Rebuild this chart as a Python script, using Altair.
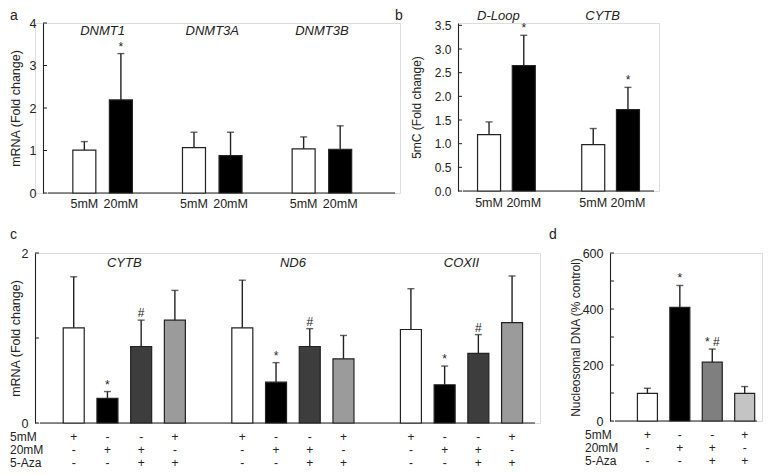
import altair as alt
import pandas as pd

FONT = "Liberation Sans"
INK = "#222222"

# ---------------- data ----------------
# panel a
a_genes = ["DNMT1", "DNMT3A", "DNMT3B"]
a_conds = ["5mM", "20mM"]
a_mean = [1.01, 2.19, 1.07, 0.88, 1.04, 1.03]
a_err = [0.20, 1.09, 0.36, 0.55, 0.28, 0.55]
a_sig = ["", "*", "", "", "", ""]
a_fill = ["#ffffff", "#000000"]
a_yticks = [0, 1, 2, 3, 4]

# panel b
b_regions = ["D-Loop", "CYTB"]
b_conds = ["5mM", "20mM"]
b_mean = [1.19, 2.65, 0.98, 1.72]
b_err = [0.27, 0.64, 0.34, 0.47]
b_sig = ["", "*", "", "*"]
b_fill = ["#ffffff", "#000000"]
b_yticks = [0.0, 0.5, 1.0, 1.5, 2.0, 2.5, 3.0, 3.5]

# panel c
c_genes = ["CYTB", "ND6", "COXII"]
c_mean = [1.12, 0.29, 0.90, 1.21, 1.12, 0.48, 0.90, 0.755, 1.10, 0.45, 0.82, 1.18]
c_err = [0.60, 0.08, 0.31, 0.35, 0.56, 0.23, 0.21, 0.275, 0.48, 0.22, 0.22, 0.55]
c_sig = ["", "*", "#", "", "", "*", "#", "", "", "*", "#", ""]
c_fill = ["#ffffff", "#000000", "#3d3d3d", "#9b9b9b"]
c_yticks = [0, 1, 2]

# panel d
d_mean = [99, 406, 210, 99]
d_err = [18, 78, 47, 24]
d_sig = ["", "*", "* #", ""]
d_fill = ["#ffffff", "#000000", "#7f7f7f", "#c4c4c4"]
d_ylabels = [0, 200, 400, 600]
d_yticks = [0, 100, 200, 300, 400, 500, 600]

# treatment table (c, d)
treat_rows = ["5mM", "20mM", "5-Aza"]
treat_signs = [["+", "-", "-", "+"], ["-", "+", "+", "-"], ["-", "-", "+", "+"]]


def make_panel(bars, W, H, xdom, x_start, ydom, axis_vals, tick_vals, yfmt, ytitle,
               title_x, title_fs, label_fs, bar_w, y_off=0):
    sx = alt.Scale(domain=xdom, nice=False, zero=False)
    sy = alt.Scale(domain=ydom, nice=False, zero=True)
    xax = alt.Axis(title=None, labels=False, ticks=False, grid=False, domain=False,
                   minExtent=0)
    yax = alt.Axis(values=axis_vals, format=yfmt, title=ytitle, ticks=False,
                   tickSize=0, labelPadding=7, grid=False, domainColor=INK,
                   domainWidth=1.1, labelFontSize=label_fs, labelColor=INK,
                   offset=-y_off, minExtent=0,
                   titleFontSize=title_fs, titleFontWeight="normal",
                   titleColor=INK, titleX=title_x, titleY=H / 2,
                   titleAngle=270, titleAlign="center", titleBaseline="middle")

    def X(f):
        return alt.X(f"{f}:Q", scale=sx, axis=xax)

    def Y(f):
        return alt.Y(f"{f}:Q", scale=sy, axis=yax)

    base = alt.Chart(bars).transform_calculate(top="datum.mean + datum.err")
    frame = pd.DataFrame({"x0": [x_start], "x1": [xdom[1]], "y0": [0]})
    layers = [
        alt.Chart(frame).mark_rule(color=INK, strokeWidth=1.2).encode(
            x=X("x0"), x2="x1:Q", y=Y("y0")),
        base.mark_bar(size=bar_w, stroke=INK, strokeWidth=1.2).encode(
            x=X("pos"), y=Y("mean"), fill=alt.Fill("fill:N", scale=None)),
        base.mark_rule(color=INK, strokeWidth=1.4).encode(
            x=X("pos"), y=Y("mean"), y2="top:Q"),
        base.mark_tick(orient="horizontal", size=7, thickness=1.4, color=INK).encode(
            x=X("pos"), y=Y("top")),
        base.mark_text(fontSize=12, dy=-3, baseline="alphabetic", color=INK).encode(
            x=X("pos"), y=Y("top"), text="sig:N"),
        alt.Chart(pd.DataFrame({"v": tick_vals})).mark_rule(color=INK, strokeWidth=1).encode(
            y=Y("v"), x=alt.value(y_off), x2=alt.value(y_off + 4)),
    ]
    return layers, X, Y


def letter(t, lx, ly):
    return alt.Chart(pd.DataFrame({"t": [t]})).mark_text(
        align="left", baseline="top", fontSize=14, color=INK).encode(
        x=alt.value(lx), y=alt.value(ly), text="t:N")


# ---------------- panel a ----------------
rows = []
for g, gene in enumerate(a_genes):
    for j, cond in enumerate(a_conds):
        k = g * 2 + j
        rows.append({"pos": g * 3 + j + 1, "cond": cond, "mean": a_mean[k],
                     "err": a_err[k], "sig": a_sig[k], "fill": a_fill[j]})
a_df = pd.DataFrame(rows)
a_gdf = pd.DataFrame({"center": [g * 3 + 1.5 for g in range(len(a_genes))], "gene": a_genes})
A_OFF = 8
WA, HA = 357 + A_OFF, 170
la, XA, YA = make_panel(a_df, WA, HA, [-A_OFF / 37.5, 9.5], 0, [0, 4], a_yticks, a_yticks, "d",
                        "mRNA (Fold change)", -28, 12.5, 12.5, 23, y_off=A_OFF)
la += [
    alt.Chart(a_df).mark_text(baseline="middle", fontSize=12.5, color=INK).encode(
        x=XA("pos"), y=alt.value(HA + 11), text="cond:N"),
    alt.Chart(a_gdf).mark_text(baseline="middle", fontSize=13, fontStyle="italic", color=INK).encode(
        x=XA("center"), y=alt.value(8), text="gene:N"),
    letter("a", -25, -14),
]
A = alt.layer(*la).properties(width=WA, height=HA)

# ---------------- panel b ----------------
rows = []
for g, reg in enumerate(b_regions):
    for j, cond in enumerate(b_conds):
        k = g * 2 + j
        rows.append({"pos": g * 3 + j + 1, "cond": cond, "mean": b_mean[k],
                     "err": b_err[k], "sig": b_sig[k], "fill": b_fill[j]})
b_df = pd.DataFrame(rows)
b_gdf = pd.DataFrame({"center": [g * 3 + 1.5 for g in range(len(b_regions))], "gene": b_regions})
WB, HB = 201, 168
lb, XB, YB = make_panel(b_df, WB, HB, [0.25, 5.75], 0.25, [0, 3.55], b_yticks, b_yticks, ".1f",
                        "5mC (Fold change)", -42, 12, 12, 23)
lb += [
    alt.Chart(b_df).mark_text(baseline="middle", fontSize=12.5, color=INK).encode(
        x=XB("pos"), y=alt.value(HB + 11.5), text="cond:N"),
    alt.Chart(b_gdf).mark_text(baseline="middle", fontSize=13, fontStyle="italic", color=INK, dx=-8).encode(
        x=XB("center"), y=alt.value(-7), text="gene:N"),
    letter("b", -63, -14),
]
B = alt.layer(*lb).properties(width=WB, height=HB)


def treat_layers(X, H, n_groups, step):
    out = []
    for r, name in enumerate(treat_rows):
        yy = H + 14 + 13 * r
        sdf = pd.DataFrame([{"pos": g * step + j + 1, "s": treat_signs[r][j]}
                            for g in range(n_groups) for j in range(4)])
        out.append(alt.Chart(sdf).mark_text(baseline="middle", fontSize=12, color=INK).encode(
            x=X("pos"), y=alt.value(yy), text="s:N"))
        out.append(alt.Chart(pd.DataFrame({"t": [name]})).mark_text(
            align="left", baseline="middle", fontSize=12, color=INK).encode(
            x=alt.value(-25), y=alt.value(yy), text="t:N"))
    return out


# ---------------- panel c ----------------
rows = []
for g, gene in enumerate(c_genes):
    for j in range(4):
        k = g * 4 + j
        rows.append({"pos": g * 5 + j + 1, "mean": c_mean[k], "err": c_err[k],
                     "sig": c_sig[k], "fill": c_fill[j]})
c_df = pd.DataFrame(rows)
c_gdf = pd.DataFrame({"center": [g * 5 + 2.5 for g in range(len(c_genes))], "gene": c_genes})
WC, HC = 505, 170
lc, XC, YC = make_panel(c_df, WC, HC, [0, 14.68], 0, [0, 2], c_yticks, c_yticks, "d",
                        "mRNA (Fold change)", -19.5, 12.5, 12.5, 21)
lc += [
    alt.Chart(c_gdf).mark_text(baseline="middle", fontSize=13, fontStyle="italic", color=INK).encode(
        x=XC("center"), y=alt.value(10), text="gene:N"),
    letter("c", -25, -25),
]
lc += treat_layers(XC, HC, 3, 5)
C = alt.layer(*lc).properties(width=WC, height=HC)

# ---------------- panel d ----------------
d_df = pd.DataFrame({"pos": [j + 1 for j in range(4)], "mean": d_mean, "err": d_err,
                     "sig": d_sig, "fill": d_fill})
WD, HD = 152, 168
ld, XD, YD = make_panel(d_df, WD, HD, [0, 4.38], 0, [0, 600], d_ylabels, d_yticks, "d",
                        "Nucleosomal DNA (% control)", -35, 12, 12.5, 20)
ld += [letter("d", -61, -25)]
ld += treat_layers(XD, HD, 1, 5)
D = alt.layer(*ld).properties(width=WD, height=HD)

row1 = alt.hconcat(A, B, spacing=58, bounds="flush")
row2 = alt.hconcat(C, D, spacing=70, bounds="flush")
chart = alt.vconcat(row1, row2, spacing=16).properties(
    padding={"left": 0, "top": 0, "right": 0, "bottom": 0}
).configure_view(stroke=None).configure(font=FONT).configure_axis(
    labelFont=FONT, titleFont=FONT, grid=False)

chart.save("out.html", embed_options={"renderer": "svg", "actions": False})
